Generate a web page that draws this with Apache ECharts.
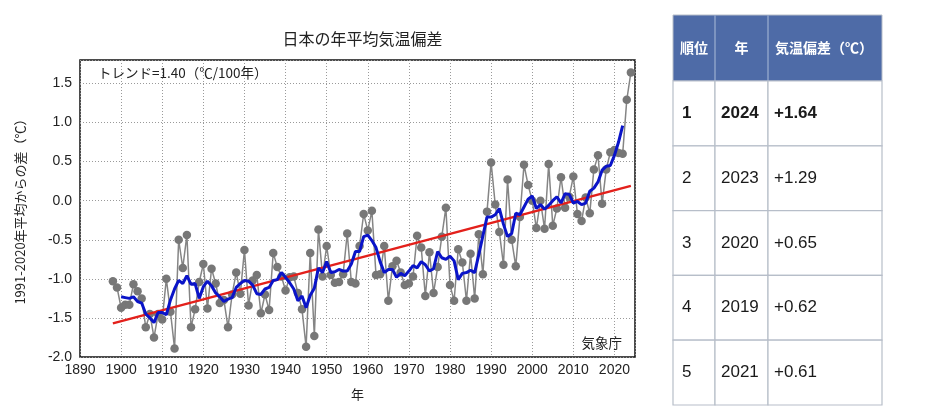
<!DOCTYPE html>
<html><head><meta charset="utf-8">
<script src="https://cdn.jsdelivr.net/npm/echarts/dist/echarts.min.js"></script>
<style>html,body{margin:0;padding:0;background:#fff}#c{width:934px;height:417px}</style>
</head><body><div id="c"></div><script>
// ---- data ----
const firstYear = 1898;
const annualAnomaly = [
 -1.03,-1.11,
 -1.37,-1.33,-1.33,-1.07,-1.16,-1.25,-1.62,-1.45,-1.75,-1.45,
 -1.52,-1.00,-1.42,-1.89,-0.50,-0.86,-0.44,-1.62,-1.39,-1.04,
 -0.81,-1.38,-0.87,-1.06,-1.31,-1.27,-1.62,-1.20,-0.92,-1.19,
 -0.63,-1.34,-1.02,-0.95,-1.44,-1.20,-1.40,-0.67,-0.85,-0.97,
 -1.15,-0.98,-0.97,-1.18,-1.39,-1.87,-0.67,-1.73,-0.37,-0.97,
 -0.58,-0.95,-1.05,-1.04,-0.94,-0.42,-1.04,-1.06,-0.58,-0.17,
 -0.38,-0.13,-0.95,-0.94,-0.58,-1.28,-0.84,-0.77,-0.92,-1.08,
 -1.06,-0.97,-0.45,-0.60,-1.22,-0.66,-1.18,-0.85,-0.46,-0.09,
 -1.08,-1.28,-0.62,-0.79,-1.28,-0.68,-1.25,-0.43,-0.94,-0.14,
  0.49,-0.05,-0.40,-0.82, 0.27,-0.50,-0.84,-0.21, 0.46, 0.20,
  0.00,-0.35, 0.00,-0.36, 0.47,-0.32,-0.10, 0.30,-0.09, 0.05,
  0.31,-0.17,-0.26, 0.04,-0.16, 0.40, 0.58,-0.04, 0.40, 0.62,
  0.65, 0.61, 0.60, 1.29, 1.64
];
// 5-year running mean (1900-2022), read/derived values
const smoothFirstYear = 1900;
const runningMean5 = [
 -1.23,-1.24,-1.25,-1.23,-1.29,-1.31,-1.45,-1.50,-1.56,-1.43,
 -1.43,-1.46,-1.27,-1.13,-1.02,-1.06,-0.96,-1.07,-1.06,-1.25,
 -1.10,-1.03,-1.09,-1.18,-1.23,-1.29,-1.26,-1.24,-1.11,-1.06,
 -1.02,-1.03,-1.08,-1.19,-1.20,-1.13,-1.11,-1.02,-1.01,-0.92,
 -0.98,-1.05,-1.13,-1.28,-1.22,-1.37,-1.21,-1.12,-0.86,-0.92,
 -0.78,-0.92,-0.91,-0.88,-0.90,-0.90,-0.81,-0.65,-0.65,-0.46,
 -0.44,-0.51,-0.60,-0.78,-0.92,-0.88,-0.88,-0.98,-0.93,-0.96,
 -0.90,-0.83,-0.86,-0.78,-0.82,-0.90,-0.87,-0.65,-0.73,-0.75,
 -0.71,-0.77,-1.01,-0.93,-0.92,-0.89,-0.92,-0.69,-0.45,-0.21,
 -0.21,-0.18,-0.10,-0.30,-0.46,-0.42,-0.16,-0.18,-0.08, 0.02,
  0.06,-0.10,-0.05,-0.11,-0.06, 0.00, 0.05,-0.03, 0.09, 0.08,
 -0.03,-0.01,-0.05,-0.03, 0.12, 0.16, 0.24, 0.39, 0.44, 0.45,
  0.58, 0.75, 0.96
];
const trendYears = [1898, 2024];
const trendValues = [-1.57, 0.19];
const trendLabel = 'トレンド=1.40（℃/100年）';
const sourceLabel = '気象庁';
const chartTitle = '日本の年平均気温偏差';
const yAxisName = '1991-2020年平均からの差（℃）';
const xAxisName = '年';

const tableHeader = ['順位', '年', '気温偏差（℃）'];
const tableRank = ['1', '2', '3', '4', '5'];
const tableYear = ['2024', '2023', '2020', '2019', '2021'];
const tableValue = ['+1.64', '+1.29', '+0.65', '+0.62', '+0.61'];

// ---- build ----
const annualData = annualAnomaly.map((v, i) => [firstYear + i, v]);
const smoothData = runningMean5.map((v, i) => [smoothFirstYear + i, v]);
const trendData = trendYears.map((y, i) => [y, trendValues[i]]);

const jp = '"Noto Sans CJK JP", "Noto Sans", sans-serif';
const lat = '"Liberation Sans", Arial, "Noto Sans CJK JP", sans-serif';

// table graphics
const T = { x: 673, y: 15, cols: [42, 53, 114], headH: 66, rowH: 64.8,
  head: '#4e6ba7', border: '#b7bec9', headSep: '#8ea2c8' };
const tableEls = [];
const colX = [T.x, T.x + T.cols[0], T.x + T.cols[0] + T.cols[1]];
const totalW = T.cols[0] + T.cols[1] + T.cols[2];
tableEls.push({ type: 'rect', shape: { x: T.x, y: T.y, width: totalW, height: T.headH },
  style: { fill: T.head, stroke: T.border, lineWidth: 1 } });
for (let c = 1; c < 3; c++) {
  tableEls.push({ type: 'line', shape: { x1: colX[c], y1: T.y, x2: colX[c], y2: T.y + T.headH },
    style: { stroke: T.headSep, lineWidth: 1.5 } });
}
const headAnchors = [
  { x: colX[0] + T.cols[0] / 2, align: 'center' },
  { x: colX[1] + T.cols[1] / 2, align: 'center' },
  { x: colX[2] + 7, align: 'left' }
];
tableHeader.forEach((h, c) => {
  tableEls.push({ type: 'text', x: headAnchors[c].x, y: T.y + T.headH / 2,
    style: { text: h, fill: '#fff', font: 'bold 14px ' + jp, align: headAnchors[c].align,
      verticalAlign: 'middle', textAlign: headAnchors[c].align, textVerticalAlign: 'middle' } });
});
const cols = [tableRank, tableYear, tableValue];
for (let r = 0; r < tableRank.length; r++) {
  const ry = T.y + T.headH + r * T.rowH;
  for (let c = 0; c < 3; c++) {
    tableEls.push({ type: 'rect', shape: { x: colX[c], y: ry, width: T.cols[c], height: T.rowH },
      style: { fill: '#fff', stroke: T.border, lineWidth: 1.2 } });
    tableEls.push({ type: 'text', x: colX[c] + (c === 0 ? 9 : 6), y: ry + T.rowH / 2,
      style: { text: cols[c][r], fill: '#1a1a1a',
        font: (r === 0 ? 'bold ' : '') + '17px ' + lat,
        align: 'left', verticalAlign: 'middle', textAlign: 'left', textVerticalAlign: 'middle' } });
  }
}

const chart = echarts.init(document.getElementById('c'), null, { renderer: 'canvas' });
chart.setOption({
  backgroundColor: '#fff',
  animation: false,
  title: {
    text: chartTitle, left: 357.5, top: 26, textAlign: 'center',
    textStyle: { fontSize: 16, fontWeight: 'normal', color: '#222', fontFamily: jp }
  },
  grid: { left: 80, right: 299, top: 60, bottom: 60, show: true,
    borderColor: '#111', borderWidth: 1.5, backgroundColor: 'transparent' },
  xAxis: {
    type: 'value', min: 1890, max: 2025, interval: 10,
    axisLine: { show: false }, axisTick: { show: false },
    splitLine: { show: true, lineStyle: { color: '#9a9a9a', type: [1, 2], width: 1 } },
    axisLabel: { color: '#222', fontSize: 14, fontFamily: lat, margin: 6, showMaxLabel: false,
      formatter: v => String(v) },
    name: xAxisName, nameLocation: 'middle', nameGap: 31,
    nameTextStyle: { color: '#222', fontSize: 13, fontFamily: jp }
  },
  yAxis: {
    type: 'value', min: -2, max: 1.8, interval: 0.5,
    axisLine: { show: false }, axisTick: { show: false },
    splitLine: { show: true, lineStyle: { color: '#9a9a9a', type: [1, 2], width: 1 } },
    axisLabel: { color: '#222', fontSize: 14, fontFamily: lat, margin: 8, showMaxLabel: false,
      formatter: v => v.toFixed(1) },
    name: yAxisName, nameLocation: 'middle', nameGap: 53, nameRotate: 90,
    nameTextStyle: { color: '#222', fontSize: 13, fontFamily: jp }
  },
  series: [
    { name: '年平均', type: 'line', data: annualData, z: 2,
      symbol: 'circle', symbolSize: 8.5, showSymbol: true,
      itemStyle: { color: '#777777' }, lineStyle: { color: '#858585', width: 1.5 } },
    { name: 'トレンド', type: 'line', data: trendData, z: 3, symbol: 'none',
      lineStyle: { color: '#e3201b', width: 2.5 } },
    { name: '5年移動平均', type: 'line', data: smoothData, z: 4, symbol: 'none',
      lineStyle: { color: '#0a14c8', width: 3 } }
  ],
  graphic: [
    { type: 'text', x: 98, y: 73, z: 10,
      style: { text: trendLabel, fill: '#222', font: '13.5px ' + jp,
        align: 'left', verticalAlign: 'middle', textAlign: 'left', textVerticalAlign: 'middle' } },
    { type: 'text', x: 622, y: 343, z: 10,
      style: { text: sourceLabel, fill: '#222', font: '13.5px ' + jp,
        align: 'right', verticalAlign: 'middle', textAlign: 'right', textVerticalAlign: 'middle' } },
    { type: 'group', children: tableEls }
  ]
});
</script></body></html>
